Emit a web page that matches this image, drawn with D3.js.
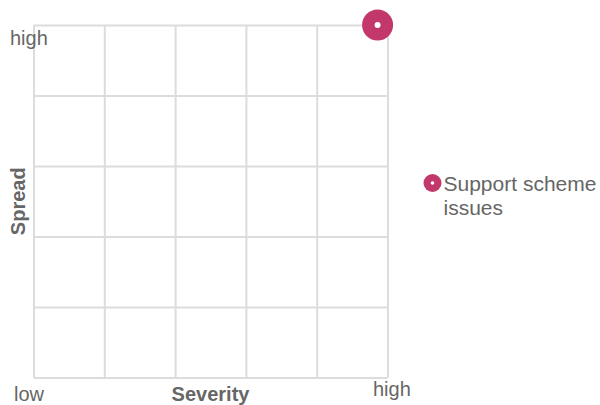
<!DOCTYPE html>
<html>
<head>
<meta charset="utf-8">
<script src="https://cdn.jsdelivr.net/npm/d3@7"></script>
<style>
  html, body { margin: 0; padding: 0; background: #fff; }
  svg { display: block; }
  text { font-family: "Liberation Sans", Arial, sans-serif; fill: #666; }
</style>
</head>
<body>
<svg id="chart" width="600" height="405"></svg>
<script>
// Risk items: severity (x) and spread (y), both on a 0–1 scale
const itemNames = ["Support scheme issues"];
const severity = [0.972];
const spread = [1.0];
const itemColors = ["#c2386b"];

// Grid divisions and axis end labels
const gridTicks = [0, 0.2, 0.4, 0.6, 0.8, 1];
const xEndLabels = ["low", "high"];
const yEndLabels = ["high"];
const xTitle = "Severity";
const yTitle = "Spread";
const legendLines = ["Support scheme", "issues"];

const svg = d3.select("#chart");
const plot = { left: 33.5, right: 387.5, top: 25, bottom: 377.5 };

const x = d3.scaleLinear().domain([0, 1]).range([plot.left, plot.right]);
const y = d3.scaleLinear().domain([0, 1]).range([plot.bottom, plot.top]);

// Grid
const grid = svg.append("g");
grid.append("g")
  .attr("transform", `translate(0,${plot.bottom})`)
  .call(d3.axisBottom(x).tickValues(gridTicks).tickSize(-(plot.bottom - plot.top)).tickFormat(""))
  .call(g => g.select(".domain").remove())
  .call(g => g.selectAll("line").attr("stroke", "#dcdcdc").attr("stroke-width", 2));
grid.append("g")
  .attr("transform", `translate(${plot.left},0)`)
  .call(d3.axisLeft(y).tickValues(gridTicks).tickSize(-(plot.right - plot.left)).tickFormat(""))
  .call(g => g.select(".domain").remove())
  .call(g => g.selectAll("line").attr("stroke", "#dcdcdc").attr("stroke-width", 2));

// Axis labels
svg.append("text").attr("x", 10).attr("y", 45).attr("font-size", 20).text(yEndLabels[0]);
svg.append("text").attr("x", 14).attr("y", 401).attr("font-size", 20).text(xEndLabels[0]);
svg.append("text").attr("x", 373).attr("y", 396).attr("font-size", 20).text(xEndLabels[1]);
svg.append("text").attr("x", (plot.left + plot.right) / 2).attr("y", 401)
  .attr("text-anchor", "middle").attr("font-size", 20).attr("font-weight", "bold").text(xTitle);
svg.append("text")
  .attr("transform", `translate(25,${(plot.top + plot.bottom) / 2}) rotate(-90)`)
  .attr("text-anchor", "middle").attr("font-size", 20).attr("font-weight", "bold").text(yTitle);

// Points
const pts = svg.append("g").selectAll("g").data(itemNames).join("g")
  .attr("transform", (d, i) => `translate(${x(severity[i])},${y(spread[i])})`);
pts.append("circle").attr("r", 15.5).attr("fill", (d, i) => itemColors[i]);
pts.append("circle").attr("r", 3).attr("fill", "#fff");

// Legend
const lg = svg.append("g").attr("transform", "translate(432.5,183)");
lg.append("circle").attr("r", 9).attr("fill", itemColors[0]);
lg.append("circle").attr("r", 1.8).attr("fill", "#fff");
lg.selectAll("text.l").data(legendLines).join("text").attr("class", "l")
  .attr("x", 11).attr("y", (d, i) => 8 + i * 24)
  .attr("font-size", 21).text(d => d);
</script>
</body>
</html>
